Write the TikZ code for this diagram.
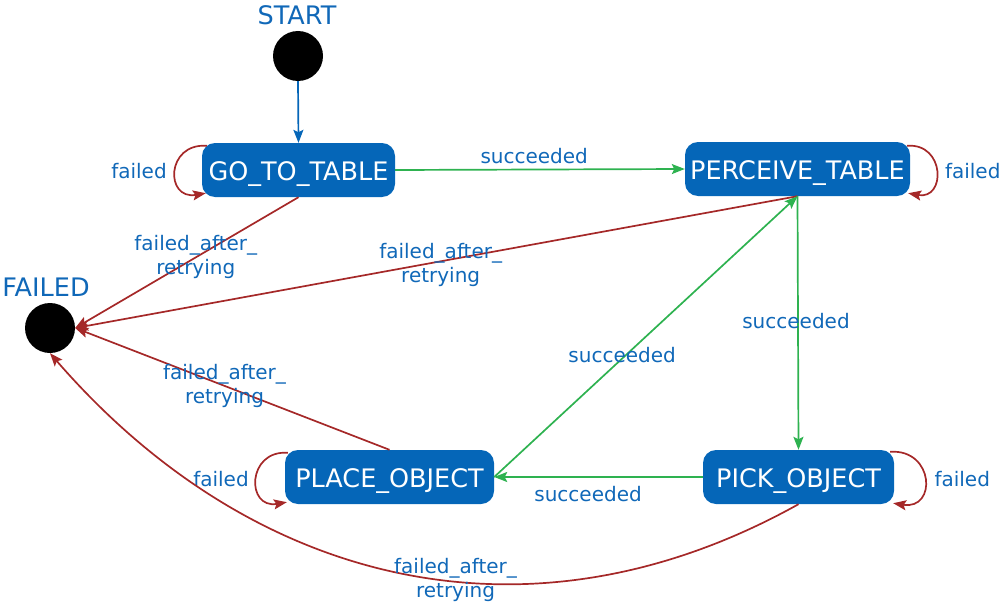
\documentclass[tikz,border=0pt]{standalone}
\usepackage{fontspec}
\setmainfont{DejaVu Sans}
\usetikzlibrary{arrows.meta,calc}
\definecolor{nodeblue}{RGB}{5,102,184}
\definecolor{lblblue}{RGB}{16,104,184}
\definecolor{egreen}{RGB}{46,178,80}
\definecolor{ered}{RGB}{165,40,40}
\begin{document}
\begin{tikzpicture}[x=1pt,y=-1pt,
  state/.style={fill=nodeblue, text=white, rounded corners=13pt, minimum height=54pt, inner sep=0pt, text height=20pt, text depth=0pt, font=\fontsize{25.5}{30}\selectfont},
  pt/.style={circle, fill=black, minimum size=50pt, inner sep=0pt},
  ttl/.style={text=lblblue, font=\fontsize{25.5}{30}\selectfont, inner sep=0pt},
  lbl/.style={text=lblblue, font=\fontsize{20}{24}\selectfont, align=center, inner sep=0pt},
  edge/.style={line width=1.7pt, -{Stealth[length=13pt,width=10pt,inset=2.5pt]}},
  gedge/.style={edge, draw=egreen},
  redge/.style={edge, draw=ered},
  bedge/.style={edge, draw=nodeblue}
]
\useasboundingbox (0,0) rectangle (999,602);

% nodes
\node[pt] (start) at (298,56) {};
\node[ttl] (startlbl) at (297,15) {START};
\node[pt] (failed) at (50,328) {};
\node[ttl] (failedlbl) at (46,287) {FAILED};

\node[state, minimum width=193pt] (go) at (298.5,170) {GO\_TO\_TABLE};
\node[state, minimum width=225pt] (perc) at (797.5,169) {PERCEIVE\_TABLE};
\node[state, minimum width=209pt] (place) at (389.5,477) {PLACE\_OBJECT};
\node[state, minimum width=191pt] (pick) at (798.5,477) {PICK\_OBJECT};

% edges
\draw[bedge] (start.south) -- (go.north);

\draw[gedge] (go.east) -- (perc.west)
  node[lbl, pos=0.48, above=5pt] (l1) {succeeded};

\draw[redge] ($(go.north west)+(5,3)$) .. controls +(-41,-3) and +(-41,7) .. ($(go.south west)+(4,-4)$)
  node[lbl, pos=0.5, left=8pt] (l2) {failed};

\draw[redge] (go.south) -- (failed.east)
  node[lbl, pos=0.46] (l3) {failed\_after\_\\retrying};

\draw[redge] (perc.south) -- (failed.east)
  node[lbl, pos=0.494, yshift=-4pt] (l4) {failed\_after\_\\retrying};

\draw[redge] ($(perc.north east)+(-3,4)$) .. controls +(38,-3) and +(38,7) .. ($(perc.south east)+(-2,-3)$)
  node[lbl, pos=0.5, right=8pt] (l5) {failed};

\draw[gedge] (perc.south) -- (pick.north)
  node[lbl, pos=0.5, xshift=-2pt, yshift=2pt] (l6) {succeeded};

\draw[gedge] (pick.west) -- (place.east)
  node[lbl, pos=0.55, yshift=-17pt] (l7) {succeeded};

\draw[redge] ($(pick.north east)+(-4,2)$) .. controls +(44,-3) and +(44,7) .. ($(pick.south east)+(-1,-1)$)
  node[lbl, pos=0.5, right=9pt] (l8) {failed};

\draw[gedge] (place.east) -- (perc.south)
  node[lbl, pos=0.435, xshift=-4pt] (l9) {succeeded};

\draw[redge] (place.north) -- (failed.east)
  node[lbl, pos=0.525] (l10) {failed\_after\_\\retrying};

\draw[redge] ($(place.north west)+(3,3)$) .. controls +(-41,-3) and +(-41,7) .. ($(place.south west)+(2,-2)$)
  node[lbl, pos=0.5, left=7pt] (l11) {failed};

\draw[redge] (pick.south) .. controls (528,655) and (251,585) .. (failed.south)
  node[lbl, pos=0.43, xshift=3pt, yshift=1pt] (l12) {failed\_after\_\\retrying};
\end{tikzpicture}
\end{document}
